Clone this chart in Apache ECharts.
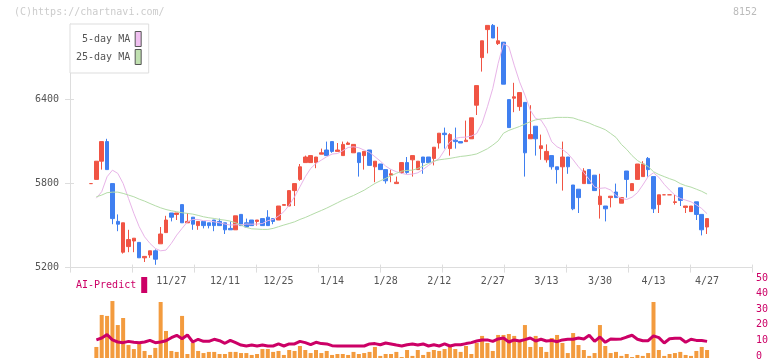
<!DOCTYPE html>
<html><head><meta charset="utf-8">
<script src="https://cdn.jsdelivr.net/npm/echarts@6/dist/echarts.min.js"></script>
<style>html,body{margin:0;padding:0;background:#fff}#c{width:772px;height:361px}</style>
</head><body><div id="c"></div>
<script>
const dates = ['11/5','11/6','11/7','11/10','11/11','11/12','11/13','11/14','11/17','11/18','11/19','11/20','11/21','11/25','11/26','11/27','11/28',
'12/1','12/2','12/3','12/4','12/5','12/8','12/9','12/10','12/11','12/12','12/15','12/16','12/17','12/18','12/19','12/22','12/23','12/24','12/25','12/26','12/29','12/30',
'1/5','1/6','1/7','1/8','1/9','1/13','1/14','1/15','1/16','1/19','1/20','1/21','1/22','1/23','1/26','1/27','1/28','1/29','1/30',
'2/2','2/3','2/4','2/5','2/6','2/9','2/10','2/12','2/13','2/16','2/17','2/18','2/19','2/20','2/24','2/25','2/26','2/27',
'3/2','3/3','3/4','3/5','3/6','3/9','3/10','3/11','3/12','3/13','3/16','3/17','3/18','3/19','3/23','3/24','3/25','3/26','3/27','3/30','3/31',
'4/1','4/2','4/3','4/6','4/7','4/8','4/9','4/10','4/13','4/14','4/15','4/16','4/17','4/20','4/21','4/22','4/23','4/24','4/27'];
const dateLabels = ['11/27','12/11','12/25','1/14','1/28','2/12','2/27','3/13','3/30','4/13','4/27'];
const priceTicks = [5200, 5800, 6400];

const open = [5800,5830,5960,6100,5800,5530,5310,5350,5390,5380,
5270,5290,5320,5370,5450,5590,5580,5650,5520,5560,
5500,5530,5520,5540,5530,5520,5480,5470,5580,5520,
5540,5530,5550,5560,5550,5540,5645,5640,5750,5830,
5950,5950,5950,6010,6040,6100,6030,6000,6080,6020,
6020,6000,6040,5920,5940,5900,5860,5800,5880,5950,
5970,5900,5990,5990,5980,6090,6160,6050,6110,6100,
6100,6120,6360,6700,6900,6930,6800,6810,6400,6410,
6350,6380,6120,6210,6050,5970,6000,5920,5920,5990,
5790,5760,5800,5900,5860,5650,5640,5700,5740,5660,
5890,5750,5830,5850,5980,5850,5650,5720,5720,5665,
5770,5630,5600,5670,5580,5490];
const close = [5800,5960,6100,5900,5550,5510,5520,5400,5410,5270,
5280,5320,5260,5440,5540,5560,5590,5520,5530,5510,
5530,5500,5500,5500,5500,5470,5470,5570,5500,5490,
5500,5540,5500,5500,5530,5640,5650,5750,5800,5920,
5990,6000,5990,6020,6000,6030,6040,6080,6090,6080,
5950,6030,5930,5960,5900,5820,5870,5810,5950,5880,
6000,5960,5950,5950,6060,6160,6150,6150,6100,6090,
6110,6270,6500,6820,6930,6840,6820,6510,6200,6420,
6450,6020,6150,6120,6070,6030,5920,5900,5990,5920,
5620,5700,5890,5800,5750,5710,5620,5710,5700,5700,
5830,5800,5940,5940,5900,5620,5720,5720,5720,5670,
5680,5640,5640,5580,5470,5550];
const low = [5800,5830,5900,5900,5510,5460,5300,5310,5310,5270,
5240,5270,5220,5370,5450,5530,5540,5520,5520,5470,
5470,5480,5480,5460,5500,5440,5470,5470,5500,5490,
5500,5500,5500,5500,5510,5540,5645,5640,5640,5820,
5950,5950,5910,6010,6000,6020,6030,6000,6080,6020,
5850,5900,5930,5810,5900,5800,5810,5800,5870,5870,
5850,5900,5870,5950,5930,6050,6050,6000,6050,6090,
6100,6120,6290,6600,6730,6840,6790,6510,6200,6310,
6320,5850,6120,6000,5970,5950,5900,5800,5750,5870,
5610,5590,5800,5800,5750,5550,5530,5630,5700,5660,
5700,5750,5830,5850,5850,5590,5590,5720,5720,5650,
5640,5590,5600,5540,5430,5440];
const high = [5800,5960,6100,6120,5800,5580,5520,5470,5410,5380,
5280,5320,5330,5490,5570,5590,5590,5650,5590,5560,
5530,5530,5520,5540,5550,5520,5530,5570,5580,5550,
5540,5540,5550,5610,5550,5640,5650,5750,5800,5940,
6000,6000,5990,6050,6100,6100,6090,6100,6100,6080,
6020,6030,6040,5960,5940,5900,5900,5850,5950,5990,
6000,5960,5990,5990,6060,6160,6200,6160,6200,6100,
6250,6270,6500,6820,6930,6940,6920,6810,6400,6520,
6450,6380,6360,6210,6150,6080,6000,5920,6100,5990,
5790,5760,5910,5900,5860,5870,5640,5710,5800,5700,
5890,5800,5940,5960,5990,5850,5720,5720,5720,5720,
5770,5640,5640,5670,5580,5550];
const ma5 = [null,5696,5742,5849,5896,5873,5801,5694,5587,5492,
5420,5373,5337,5320,5325,5373,5432,5480,5527,5544,
5544,5535,5535,5527,5520,5511,5504,5506,5506,5511,
5510,5511,5515,5535,5544,5568,5599,5646,5706,5777,
5849,5908,5944,5968,5992,6011,6015,6035,6058,6063,
6056,6039,6023,5992,5961,5925,5901,5885,5873,5865,
5868,5877,5901,5930,5956,5980,6039,6099,6123,6130,
6132,6139,6158,6230,6349,6480,6658,6801,6777,6646,
6527,6432,6325,6265,6254,6194,6099,6063,6044,6015,
5970,5920,5878,5830,5775,5766,5770,5754,5716,5694,
5687,5703,5735,5790,5850,5877,5845,5795,5754,5718,
5694,5682,5670,5648,5622,5585];
const ma25 = [null,5706,5718,5735,5739,5739,5730,5718,5706,5689,
5675,5658,5642,5627,5615,5606,5599,5592,5587,5582,
5573,5563,5556,5551,5544,5539,5532,5520,5504,5487,
5477,5475,5473,5473,5480,5492,5504,5515,5527,5544,
5558,5575,5592,5608,5625,5644,5663,5682,5699,5715,
5734,5753,5777,5801,5820,5837,5856,5873,5889,5894,
5896,5908,5925,5944,5960,5970,5975,5980,5987,5994,
5998,6004,6012,6030,6049,6075,6105,6160,6180,6194,
6208,6225,6242,6255,6262,6265,6268,6273,6273,6273,
6269,6256,6245,6232,6215,6201,6185,6158,6130,6080,
6044,6000,5965,5942,5922,5885,5865,5850,5835,5822,
5800,5785,5775,5760,5745,5725];
const volume = [0,6.9,26.9,26.3,35.6,20.6,25,8.1,5.6,8.8,
4.4,1.9,6.3,35,16.9,4.4,3.8,26.3,2.5,9.4,
4.4,3.1,3.8,3.8,2.5,2.5,3.8,3.8,3.1,3.1,
1.9,2.5,5.6,5.6,3.8,4.4,1.9,5,4.4,7.5,
5,3.1,5,3.1,4.4,1.9,2.5,2.5,1.9,3.8,
2.5,3.1,3.8,6.9,1.3,2.5,2.5,3.8,0.6,5,
1.3,5,1.9,3.8,5,4.4,5.6,6.9,5.6,3.8,
7.5,2.5,9.4,13.8,9.4,4.4,14.4,14.4,15,13.8,
10,20.6,6.9,13.8,6.9,3.8,12.5,14.4,9.4,3.1,
15.6,8.1,5,1.3,3.1,20.6,7.5,3.1,3.8,1.3,
2.5,0.6,1.9,1.3,3.1,35,5,1.3,2.5,3.1,
3.8,1.9,1.3,4.4,6.9,5];
const aiPredict = [null,11.3,12.5,14.6,11.3,10,9.6,10.4,9.8,9.6,
10,11,9.6,10,10.8,12.7,14.2,12,14.4,10,
11.7,10.4,10.4,11.7,10.8,9.2,11,9.6,8.1,7.5,
8.1,7.5,8.1,7.5,7.5,8.8,7.5,8.8,8.8,10.4,
9.6,8.3,9.8,9,8.8,7.7,7.5,7.5,7.5,7.5,
7.5,7.5,8.8,9,8.3,9.4,8.8,8.1,7.5,8.3,
8.8,8.1,8.8,7.5,8.3,7.5,8.8,7.5,8.3,8.3,
9,9.6,10.6,11.3,11.3,10.4,11.9,12.5,10,11.3,
10.6,11.5,12.5,10.6,11.7,10.6,11,10.2,11.3,11.7,
11.7,12.5,11.9,14.2,10.4,13.1,9.8,11.9,11.7,11.9,
13.1,14.2,11.7,10.8,10.8,13.8,12.7,9.4,12,12.3,
12.3,9.8,11.7,11,11,10.4];

const FONT = "'DejaVu Sans Mono', monospace";
const UP = '#f05444', DOWN = '#3f7ff0';
const PINK = '#e8b4e8', GREEN = '#b4dca8', CRIMSON = '#cc0066', ORANGE = '#f39b3e';
const AXIS = '#dddddd';
const cLeft = 88.32, cWidth = 621.43;
const pTop = 24, pHeight = 243.6, pMin = 5200, pMax = 6940;

const chart = echarts.init(document.getElementById('c'));
chart.setOption({
  animation: false,
  backgroundColor: '#fff',
  title: [
    {text: '(C)https://chartnavi.com/', left: 14, top: 7, padding: 0,
     textStyle: {color: '#cccccc', fontSize: 10, fontWeight: 'normal', fontFamily: FONT}},
    {text: '8152', left: 733, top: 7, padding: 0,
     textStyle: {color: '#bbbbbb', fontSize: 10, fontWeight: 'normal', fontFamily: FONT}}
  ],
  legend: [
    {orient: 'vertical', left: 70, top: 24, align: 'right', icon: 'rect',
     itemWidth: 6, itemHeight: 15, itemGap: 2, padding: [7, 7, 8, 6],
     borderColor: AXIS, borderWidth: 1, backgroundColor: '#fff', selectedMode: false,
     itemStyle: {borderColor: '#555', borderWidth: 1},
     textStyle: {fontFamily: FONT, fontSize: 10, color: '#555'},
     formatter: n => n.padStart(9, ' '),
     data: [{name: '5-day MA', itemStyle: {color: '#f0c0f0'}}, {name: '25-day MA', itemStyle: {color: '#c0e0b0'}}]},
    {left: 76, top: 277, align: 'right', icon: 'rect', padding: 0,
     itemWidth: 6, itemHeight: 16, selectedMode: false,
     itemStyle: {borderWidth: 0},
     textStyle: {fontFamily: FONT, fontSize: 10, color: CRIMSON},
     data: [{name: 'AI-Predict', itemStyle: {color: CRIMSON}}]}
  ],
  grid: [
    {left: cLeft, width: cWidth, top: pTop, height: pHeight},
    {left: 70, width: 682, top: pTop, height: pHeight},
    {left: cLeft, width: cWidth, top: 278, height: 80},
    {left: 70, width: 682, top: 278, height: 80}
  ],
  xAxis: [
    {gridIndex: 0, type: 'category', data: dates, boundaryGap: true, position: 'bottom',
     axisLine: {show: false}, axisTick: {show: false}, splitLine: {show: false},
     axisLabel: {interval: (i, v) => dateLabels.includes(v), color: '#555', fontFamily: FONT, fontSize: 10, margin: 9}},
    {gridIndex: 1, type: 'value', min: 0, max: 11, interval: 1, position: 'bottom',
     axisLine: {show: true, lineStyle: {color: AXIS}}, axisTick: {show: true, length: 5, lineStyle: {color: AXIS}},
     axisLabel: {show: false}, splitLine: {show: false}},
    {gridIndex: 2, type: 'category', data: dates, boundaryGap: true, show: false},
    {gridIndex: 3, type: 'value', min: 0, max: 1, show: false},
    {gridIndex: 1, type: 'value', min: 0, max: 11, interval: 1, position: 'bottom',
     axisLine: {show: false}, axisTick: {show: true, inside: true, length: 3, lineStyle: {color: AXIS}},
     axisLabel: {show: false}, splitLine: {show: false}}
  ],
  yAxis: [
    {gridIndex: 0, type: 'value', min: pMin, max: pMax, show: false},
    {gridIndex: 1, type: 'value', min: pMin, max: pMax, position: 'left',
     axisLine: {show: true, lineStyle: {color: AXIS}},
     axisTick: {show: true, length: 5, customValues: priceTicks, lineStyle: {color: AXIS}},
     axisLabel: {customValues: priceTicks, formatter: v => String(v), color: '#555', fontFamily: FONT, fontSize: 10, margin: 11},
     splitLine: {show: false}},
    {gridIndex: 2, type: 'value', min: 0, max: 50, show: false},
    {gridIndex: 3, type: 'value', min: 0, max: 50, interval: 10, position: 'right',
     axisLine: {show: false}, axisTick: {show: false}, splitLine: {show: false},
     axisLabel: {color: CRIMSON, fontFamily: FONT, fontSize: 10, margin: 4}},
    {gridIndex: 1, type: 'value', min: pMin, max: pMax, position: 'left',
     axisLine: {show: false},
     axisTick: {show: true, inside: true, length: 4, customValues: priceTicks, lineStyle: {color: AXIS}},
     axisLabel: {show: false}, splitLine: {show: false}}
  ],
  series: [
    {type: 'candlestick', xAxisIndex: 0, yAxisIndex: 0, barWidth: 4,
     data: dates.map((d, i) => [open[i], close[i], low[i], high[i]]),
     itemStyle: {color: UP, color0: DOWN, borderColor: UP, borderColor0: DOWN, borderWidth: 1}},
    {type: 'line', name: '5-day MA', xAxisIndex: 0, yAxisIndex: 0, data: ma5, symbol: 'none',
     lineStyle: {color: PINK, width: 1}, itemStyle: {color: PINK}},
    {type: 'line', name: '25-day MA', xAxisIndex: 0, yAxisIndex: 0, data: ma25, symbol: 'none',
     lineStyle: {color: GREEN, width: 1}, itemStyle: {color: GREEN}},
    {type: 'bar', name: 'Volume', xAxisIndex: 2, yAxisIndex: 2, data: volume, barWidth: 4,
     itemStyle: {color: ORANGE}},
    {type: 'line', name: 'AI-Predict', xAxisIndex: 2, yAxisIndex: 2, data: aiPredict, symbol: 'none',
     lineStyle: {color: CRIMSON, width: 3}, itemStyle: {color: CRIMSON}}
  ]
});
</script>
</body></html>
